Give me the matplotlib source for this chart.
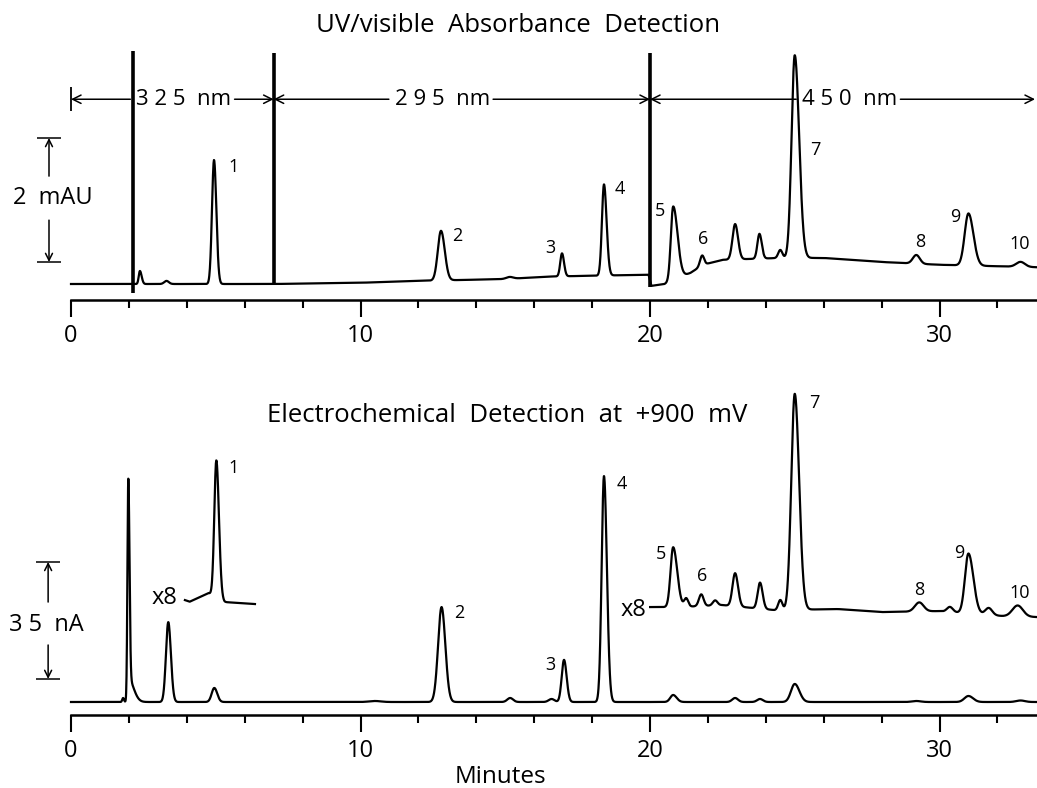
import numpy as np
import matplotlib
matplotlib.use('Agg')
import matplotlib.pyplot as plt

plt.rcParams['font.family'] = ['Open Sans', 'DejaVu Sans']

T_END = 33.4

# UV/visible trace (mAU): baseline knots and peaks (time, height, left sigma, right sigma)
uv_base_t = [0, 2.0, 7.0, 10, 12, 15, 16.5, 19.95, 20.05, 20.5, 21.4, 21.7, 22.0, 22.5, 24.5, 26.0, 28.0, 30.0, 33.4]
uv_base_y = [0, 0, 0, 0.02, 0.05, 0.08, 0.12, 0.15, -0.03, 0.0, 0.18, 0.27, 0.33, 0.39, 0.42, 0.42, 0.355, 0.31, 0.27]
uv_peaks = [
    (2.38, 0.21, 0.04, 0.06),
    (3.3, 0.05, 0.08, 0.08),
    (4.94, 2.0, 0.07, 0.08),
    (12.78, 0.80, 0.11, 0.13),
    (15.15, 0.03, 0.12, 0.12),
    (16.96, 0.37, 0.06, 0.07),
    (18.41, 1.47, 0.07, 0.09),
    (20.8, 1.19, 0.08, 0.15),
    (21.8, 0.17, 0.07, 0.07),
    (22.94, 0.57, 0.09, 0.10),
    (23.78, 0.40, 0.07, 0.08),
    (24.5, 0.13, 0.07, 0.07),
    (25.0, 3.27, 0.11, 0.15),
    (29.2, 0.14, 0.12, 0.12),
    (31.0, 0.84, 0.13, 0.17),
    (32.8, 0.08, 0.15, 0.15),
]
# detector spikes at solvent front and wavelength changes
uv_spike_t = [2.15, 7.0, 20.0]
uv_spike_top = [3.75, 3.72, 3.72]
uv_spike_bot = [-0.15, -0.02, -0.05]
uv_labels = ['1', '2', '3', '4', '5', '6', '7', '8', '9', '10']
uv_label_x = [5.63, 13.33, 16.55, 18.96, 20.35, 21.83, 25.7, 29.33, 30.54, 32.78]
uv_label_y = [1.89, 0.77, 0.58, 1.53, 1.18, 0.73, 2.16, 0.68, 1.08, 0.65]
wl_text = ['3 2 5  nm', '2 9 5  nm', '4 5 0  nm']
wl_start = [0.0, 7.0, 20.0]
wl_end = [7.0, 20.0, 33.3]
wl_center = [3.9, 12.83, 26.9]

# electrochemical trace (nA)
ec_peaks = [
    (1.8, 1.2, 0.03, 0.03),
    (1.98, 60.0, 0.03, 0.04),
    (1.98, 7.0, 0.03, 0.18),
    (3.36, 23.9, 0.08, 0.09),
    (4.95, 4.2, 0.09, 0.1),
    (10.5, 0.3, 0.2, 0.2),
    (12.8, 28.4, 0.12, 0.13),
    (15.17, 1.2, 0.1, 0.1),
    (16.6, 0.9, 0.1, 0.1),
    (17.03, 12.6, 0.08, 0.09),
    (18.41, 67.6, 0.08, 0.1),
    (20.8, 2.1, 0.1, 0.12),
    (22.94, 1.2, 0.1, 0.1),
    (23.8, 0.9, 0.1, 0.1),
    (25.0, 5.4, 0.13, 0.16),
    (29.2, 0.3, 0.15, 0.15),
    (31.0, 1.8, 0.14, 0.16),
    (32.8, 0.45, 0.15, 0.15),
]
# x8 expanded segments
ec_x8a_base_t = [3.93, 4.1, 4.75, 5.3, 6.36]
ec_x8a_base_y = [30.5, 30.0, 32.6, 29.9, 29.3]
ec_x8a_peaks = [(5.02, 41.0, 0.07, 0.09)]
ec_x8b_base_t = [20.0, 21.0, 22.5, 24.3, 26.5, 28.0, 30.0, 32.2, 33.4]
ec_x8b_base_y = [28.4, 28.4, 29.0, 27.5, 27.8, 26.9, 27.2, 25.7, 25.4]
ec_x8b_peaks = [
    (20.8, 17.9, 0.09, 0.14),
    (21.25, 2.5, 0.07, 0.07),
    (21.77, 3.5, 0.08, 0.08),
    (22.25, 1.5, 0.08, 0.08),
    (22.94, 9.9, 0.09, 0.1),
    (23.8, 7.8, 0.08, 0.09),
    (24.5, 3.0, 0.07, 0.07),
    (25.0, 64.6, 0.12, 0.15),
    (29.3, 2.7, 0.15, 0.15),
    (30.36, 1.5, 0.1, 0.1),
    (31.0, 17.9, 0.12, 0.17),
    (31.7, 2.1, 0.12, 0.12),
    (32.7, 3.3, 0.18, 0.18),
]
ec_labels = ['1', '2', '3', '4', '5', '6', '7', '8', '9', '10']
ec_label_x = [5.63, 13.4, 16.55, 19.03, 20.38, 21.8, 25.66, 29.29, 30.67, 32.78]
ec_label_y = [70.0, 26.6, 11.1, 65.2, 44.3, 37.7, 89.4, 33.5, 44.6, 32.6]


def trace(t, peaks, base_t=None, base_y=None):
    y = np.zeros_like(t) if base_t is None else np.interp(t, base_t, base_y)
    for rt, h, sl, sr in peaks:
        s = np.where(t < rt, sl, sr)
        y += h * np.exp(-0.5 * ((t - rt) / s) ** 2)
    return y


def style_axis(ax):
    for side in ['top', 'left', 'right']:
        ax.spines[side].set_visible(False)
    ax.spines['bottom'].set_linewidth(1.8)
    ax.spines['bottom'].set_bounds(0, T_END)
    ax.set_yticks([])
    ax.set_xticks([0, 10, 20, 30])
    ax.set_xticks([t for t in range(2, 34, 2) if t % 10], minor=True)
    ax.tick_params(axis='x', which='major', length=12, width=1.5, pad=5, labelsize=17)
    ax.tick_params(axis='x', which='minor', length=6, width=1.5)
    ax.set_xlim(-71 / 28.95, 966 / 28.95)


def scale_bar(ax, x, lo, hi, text, tx, ty, t_lo, t_hi):
    ax.hlines([lo, hi], x - 0.42, x + 0.42, color='k', lw=1.1)
    ax.annotate('', xy=(x, hi), xytext=(x, t_hi),
                arrowprops=dict(arrowstyle='->,head_length=0.5,head_width=0.25', lw=1.1,
                                shrinkA=0, shrinkB=0))
    ax.annotate('', xy=(x, lo), xytext=(x, t_lo),
                arrowprops=dict(arrowstyle='->,head_length=0.5,head_width=0.25', lw=1.1,
                                shrinkA=0, shrinkB=0))
    ax.text(tx, ty, text, ha='center', va='center', fontsize=17)


fig = plt.figure(figsize=(10.37, 7.88), dpi=100)
t = np.linspace(0, T_END, 5000)

# UV/visible panel
ax1 = fig.add_axes([0, 1 - 300 / 788, 1, 260 / 788])
ax1.set_ylim(-16 / 62, 244 / 62)
style_axis(ax1)
ax1.plot(t, trace(t, uv_peaks, uv_base_t, uv_base_y), color='k', lw=1.6)
ax1.vlines(uv_spike_t, uv_spike_bot, uv_spike_top, color='k', lw=2.6)
for lab, x, y in zip(uv_labels, uv_label_x, uv_label_y):
    ax1.text(x, y, lab, ha='center', va='center', fontsize=13)

arrow = dict(arrowstyle='->,head_length=0.6,head_width=0.3', lw=1.1, shrinkA=0, shrinkB=0)
wl_y = 2.98
ax1.vlines(0, wl_y - 0.19, wl_y + 0.19, color='k', lw=1.3)
for txt, a, b, c in zip(wl_text, wl_start, wl_end, wl_center):
    ax1.text(c, wl_y, txt, ha='center', va='center', fontsize=16)
    ax1.annotate('', xy=(a, wl_y), xytext=(c - 1.85, wl_y), arrowprops=arrow)
    ax1.annotate('', xy=(b, wl_y), xytext=(c + 1.75, wl_y), arrowprops=arrow)

scale_bar(ax1, -0.76, 0.355, 2.355, '2  mAU', -0.62, 1.39, 1.03, 1.74)

# electrochemical panel
ax2 = fig.add_axes([0, 1 - 715 / 788, 1, 335 / 788])
ax2.set_ylim(-13 / 3.343, 322 / 3.343)
style_axis(ax2)
ax2.plot(t, trace(t, ec_peaks), color='k', lw=1.6)
ta = t[(t >= ec_x8a_base_t[0]) & (t <= ec_x8a_base_t[-1])]
ax2.plot(ta, trace(ta, ec_x8a_peaks, ec_x8a_base_t, ec_x8a_base_y), color='k', lw=1.6)
tb = t[t >= ec_x8b_base_t[0]]
ax2.plot(tb, trace(tb, ec_x8b_peaks, ec_x8b_base_t, ec_x8b_base_y), color='k', lw=1.6)
ax2.text(3.66, 31.1, 'x8', ha='right', va='center', fontsize=17)
ax2.text(19.86, 27.5, 'x8', ha='right', va='center', fontsize=17)
for lab, x, y in zip(ec_labels, ec_label_x, ec_label_y):
    ax2.text(x, y, lab, ha='center', va='center', fontsize=13)

scale_bar(ax2, -0.79, 6.9, 41.9, '3 5  nA', -0.85, 23.0, 17.05, 29.9)

fig.text(518 / 1037, 1 - 25 / 788, 'UV/visible  Absorbance  Detection', ha='center', va='center', fontsize=18.5)
fig.text(507 / 1037, 1 - 415 / 788, 'Electrochemical  Detection  at  +900  mV', ha='center', va='center', fontsize=18.5)
fig.text(500 / 1037, 1 - 777 / 788, 'Minutes', ha='center', va='center', fontsize=17.5)

fig.savefig('out.png', dpi=100)
